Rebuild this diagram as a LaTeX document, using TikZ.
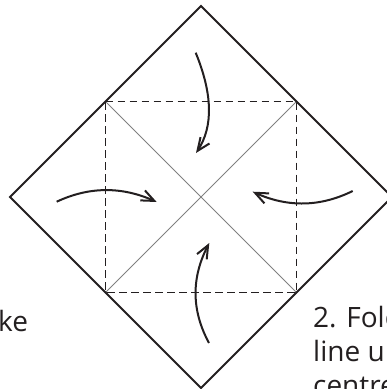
\documentclass[tikz,border=0pt]{standalone}
\usepackage{fontspec}
\setmainfont{Open Sans}
\usetikzlibrary{arrows.meta,bending}
\definecolor{ink}{HTML}{231F20}
\tikzset{
  outline/.style={draw=ink,line width=2pt},
  foldline/.style={draw=ink,line width=1.9pt,dash pattern=on 7.5pt off 4.5pt},
  crease/.style={draw=black!50,line width=1pt},
  foldarrow/.style={draw=ink,line width=2pt,-{Straight Barb[length=13pt,width=11pt,line width=2pt]}},
  label/.style={inner sep=0pt,anchor=base west,text=ink,font=\fontsize{28}{34}\selectfont}
}
\begin{document}
\begin{tikzpicture}[x=1pt,y=-1pt]
\useasboundingbox (0,0) rectangle (387,389);
\clip (0,0) rectangle (387,389);
% outer diamond
\coordinate (T) at (201,6);
\coordinate (R) at (392,197);
\coordinate (B) at (201,388);
\coordinate (L) at (10,197);
% dashed square corners
\coordinate (A1) at (105.5,101.5);
\coordinate (A2) at (296.5,101.5);
\coordinate (A3) at (296.5,292.5);
\coordinate (A4) at (105.5,292.5);
\draw[crease] (A1) -- (A3);
\draw[crease] (A2) -- (A4);
\draw[foldline] (A1) -- (A2) -- (A3) -- (A4) -- cycle;
\draw[outline] (T) -- (R) -- (B) -- (L) -- cycle;
% arrows
\coordinate (ts) at (195.7,52.7);
\coordinate (te) at (196,153);
\coordinate (bs) at (209,343);
\coordinate (be) at (209.3,243);
\coordinate (ls) at (56.7,201.7);
\coordinate (le) at (156.7,202);
\coordinate (rs) at (352.7,191);
\coordinate (re) at (252.7,191.7);
\draw[foldarrow] (ts) .. controls (213.3,95.7) and (213.4,129.1) .. (te);
\draw[foldarrow] (bs) .. controls (191,309.7) and (191,276.3) .. (be);
\draw[foldarrow] (ls) .. controls (90,186.1) and (123.4,186.2) .. (le);
\draw[foldarrow] (rs) .. controls (319.4,207.4) and (286,207.7) .. (re);
% texts
\node[label] (t1) at (-2,331) {ke};
\node[label] (t2) at (313,327) {2. Fold};
\node[label] (t3) at (313,361) {line u};
\node[label] (t4) at (313,395) {centre};
\end{tikzpicture}
\end{document}
